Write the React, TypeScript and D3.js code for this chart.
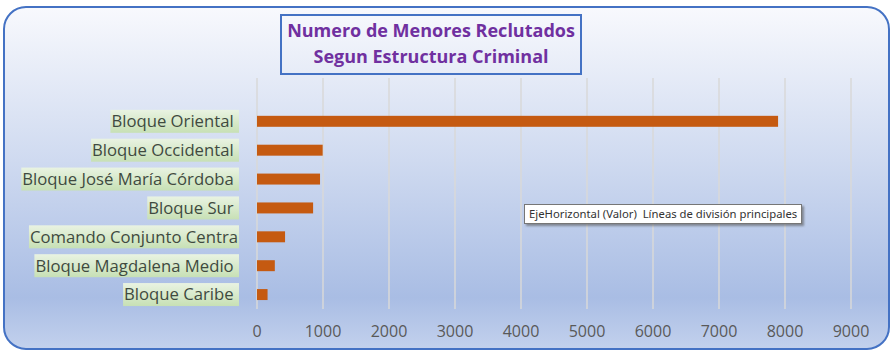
import React, { useEffect, useRef } from "react";
import * as d3 from "d3";

const categories = [
  "Bloque Oriental ",
  "Bloque Occidental ",
  "Bloque José María Córdoba ",
  "Bloque Sur ",
  "Comando Conjunto Centra",
  "Bloque Magdalena Medio ",
  "Bloque Caribe ",
];
const values = [7895, 995, 955, 850, 425, 270, 160];
const xTicks = [0, 1000, 2000, 3000, 4000, 5000, 6000, 7000, 8000, 9000];
const titleLines = ["Numero de Menores Reclutados", "Segun Estructura Criminal"];
const tooltipText = "EjeHorizontal (Valor)  Líneas de división principales";

const W = 894;
const H = 356;

export default function App() {
  const ref = useRef<SVGSVGElement | null>(null);

  useEffect(() => {
    const svg = d3.select(ref.current!);
    svg.selectAll("*").remove();

    const defs = svg.append("defs");
    const bg = defs.append("linearGradient").attr("id", "bg").attr("x1", 0).attr("y1", 0).attr("x2", 0).attr("y2", 1);
    bg.append("stop").attr("offset", "0%").attr("stop-color", "#f8f9fd");
    bg.append("stop").attr("offset", "45%").attr("stop-color", "#cfdaf0");
    bg.append("stop").attr("offset", "85%").attr("stop-color", "#a9bde4");
    bg.append("stop").attr("offset", "100%").attr("stop-color", "#c3d1ed");
    const lg = defs.append("linearGradient").attr("id", "lg").attr("x1", 0).attr("y1", 0).attr("x2", 0).attr("y2", 1);
    lg.append("stop").attr("offset", "0%").attr("stop-color", "#e9f3e2");
    lg.append("stop").attr("offset", "100%").attr("stop-color", "#c7e0b5");
    const sh = defs.append("filter").attr("id", "sh").attr("x", "-10%").attr("y", "-50%").attr("width", "130%").attr("height", "250%");
    sh.append("feDropShadow").attr("dx", 2).attr("dy", 2).attr("stdDeviation", 1.2).attr("flood-color", "#555").attr("flood-opacity", 0.6);

    // chart area
    svg.append("rect")
      .attr("x", 4).attr("y", 7).attr("width", 885).attr("height", 342)
      .attr("rx", 22).attr("ry", 22)
      .attr("fill", "url(#bg)")
      .attr("stroke", "#4472c4").attr("stroke-width", 2);

    const plotLeft = 257, plotRight = 851, plotTop = 78, plotBottom = 309;
    const x = d3.scaleLinear().domain([0, 9000]).range([plotLeft, plotRight]);
    const slot = (plotBottom - plotTop) / (categories.length + 1);
    const y = d3.scaleBand<string>()
      .domain(categories)
      .range([plotTop + slot, plotBottom])
      .paddingInner(0.62)
      .paddingOuter(0.31);

    // gridlines
    svg.append("g").selectAll("line").data(xTicks).join("line")
      .attr("x1", (d) => x(d)).attr("x2", (d) => x(d))
      .attr("y1", plotTop).attr("y2", plotBottom)
      .attr("stroke", "#d9d9d9").attr("stroke-width", 1.5);

    // tick labels
    svg.append("g").selectAll("text").data(xTicks).join("text")
      .attr("x", (d) => x(d)).attr("y", 337)
      .attr("text-anchor", "middle")
      .attr("font-family", "'Open Sans', sans-serif")
      .attr("font-size", 16)
      .attr("fill", "#595959")
      .text((d) => String(d));

    // bars
    svg.append("g").selectAll("rect").data(values).join("rect")
      .attr("x", x(0))
      .attr("y", (_d, i) => y(categories[i])!)
      .attr("width", (d) => x(d) - x(0))
      .attr("height", y.bandwidth())
      .attr("fill", "#c55a11");

    // category labels with highlight
    const lab = svg.append("g");
    categories.forEach((c) => {
      const cy = y(c)! + y.bandwidth() / 2;
      const bgRect = lab.append("rect");
      const t = lab.append("text")
        .attr("x", 238).attr("y", cy)
        .attr("dy", "0.35em")
        .attr("text-anchor", "end")
        .attr("font-family", "'Open Sans', sans-serif")
        .attr("font-size", 16.7)
        .attr("fill", "#3f4a3f")
        .style("white-space", "pre")
        .text(c);
      const bb = (t.node() as SVGTextElement).getBBox();
      bgRect.attr("x", bb.x - 1).attr("y", cy - 11.5)
        .attr("width", 239 - (bb.x - 1)).attr("height", 23)
        .attr("fill", "url(#lg)");
    });

    // title box
    svg.append("rect")
      .attr("x", 281).attr("y", 15).attr("width", 300).attr("height", 59)
      .attr("fill", "none").attr("stroke", "#4472c4").attr("stroke-width", 2);
    svg.append("g").selectAll("text").data(titleLines).join("text")
      .attr("x", 431).attr("y", (_d, i) => 31 + i * 26)
      .attr("dy", "0.35em")
      .attr("text-anchor", "middle")
      .attr("font-family", "'Open Sans', sans-serif")
      .attr("font-weight", "bold")
      .attr("font-size", 18)
      .attr("fill", "#7030a0")
      .text((d) => d);

    // tooltip
    const tt = svg.append("g");
    tt.append("rect")
      .attr("x", 524.5).attr("y", 204.5).attr("width", 277).attr("height", 19)
      .attr("fill", "#ffffff").attr("stroke", "#767676").attr("stroke-width", 1)
      .attr("filter", "url(#sh)");
    tt.append("text")
      .attr("x", 529).attr("y", 214)
      .attr("dy", "0.35em")
      .attr("font-family", "'Noto Sans', sans-serif")
      .attr("font-size", 11.3)
      .attr("fill", "#333")
      .style("white-space", "pre")
      .text(tooltipText);
  }, []);

  return (
    <svg ref={ref} width={W} height={H} style={{ position: "absolute", left: 0, top: 0, display: "block" }} />
  );
}
